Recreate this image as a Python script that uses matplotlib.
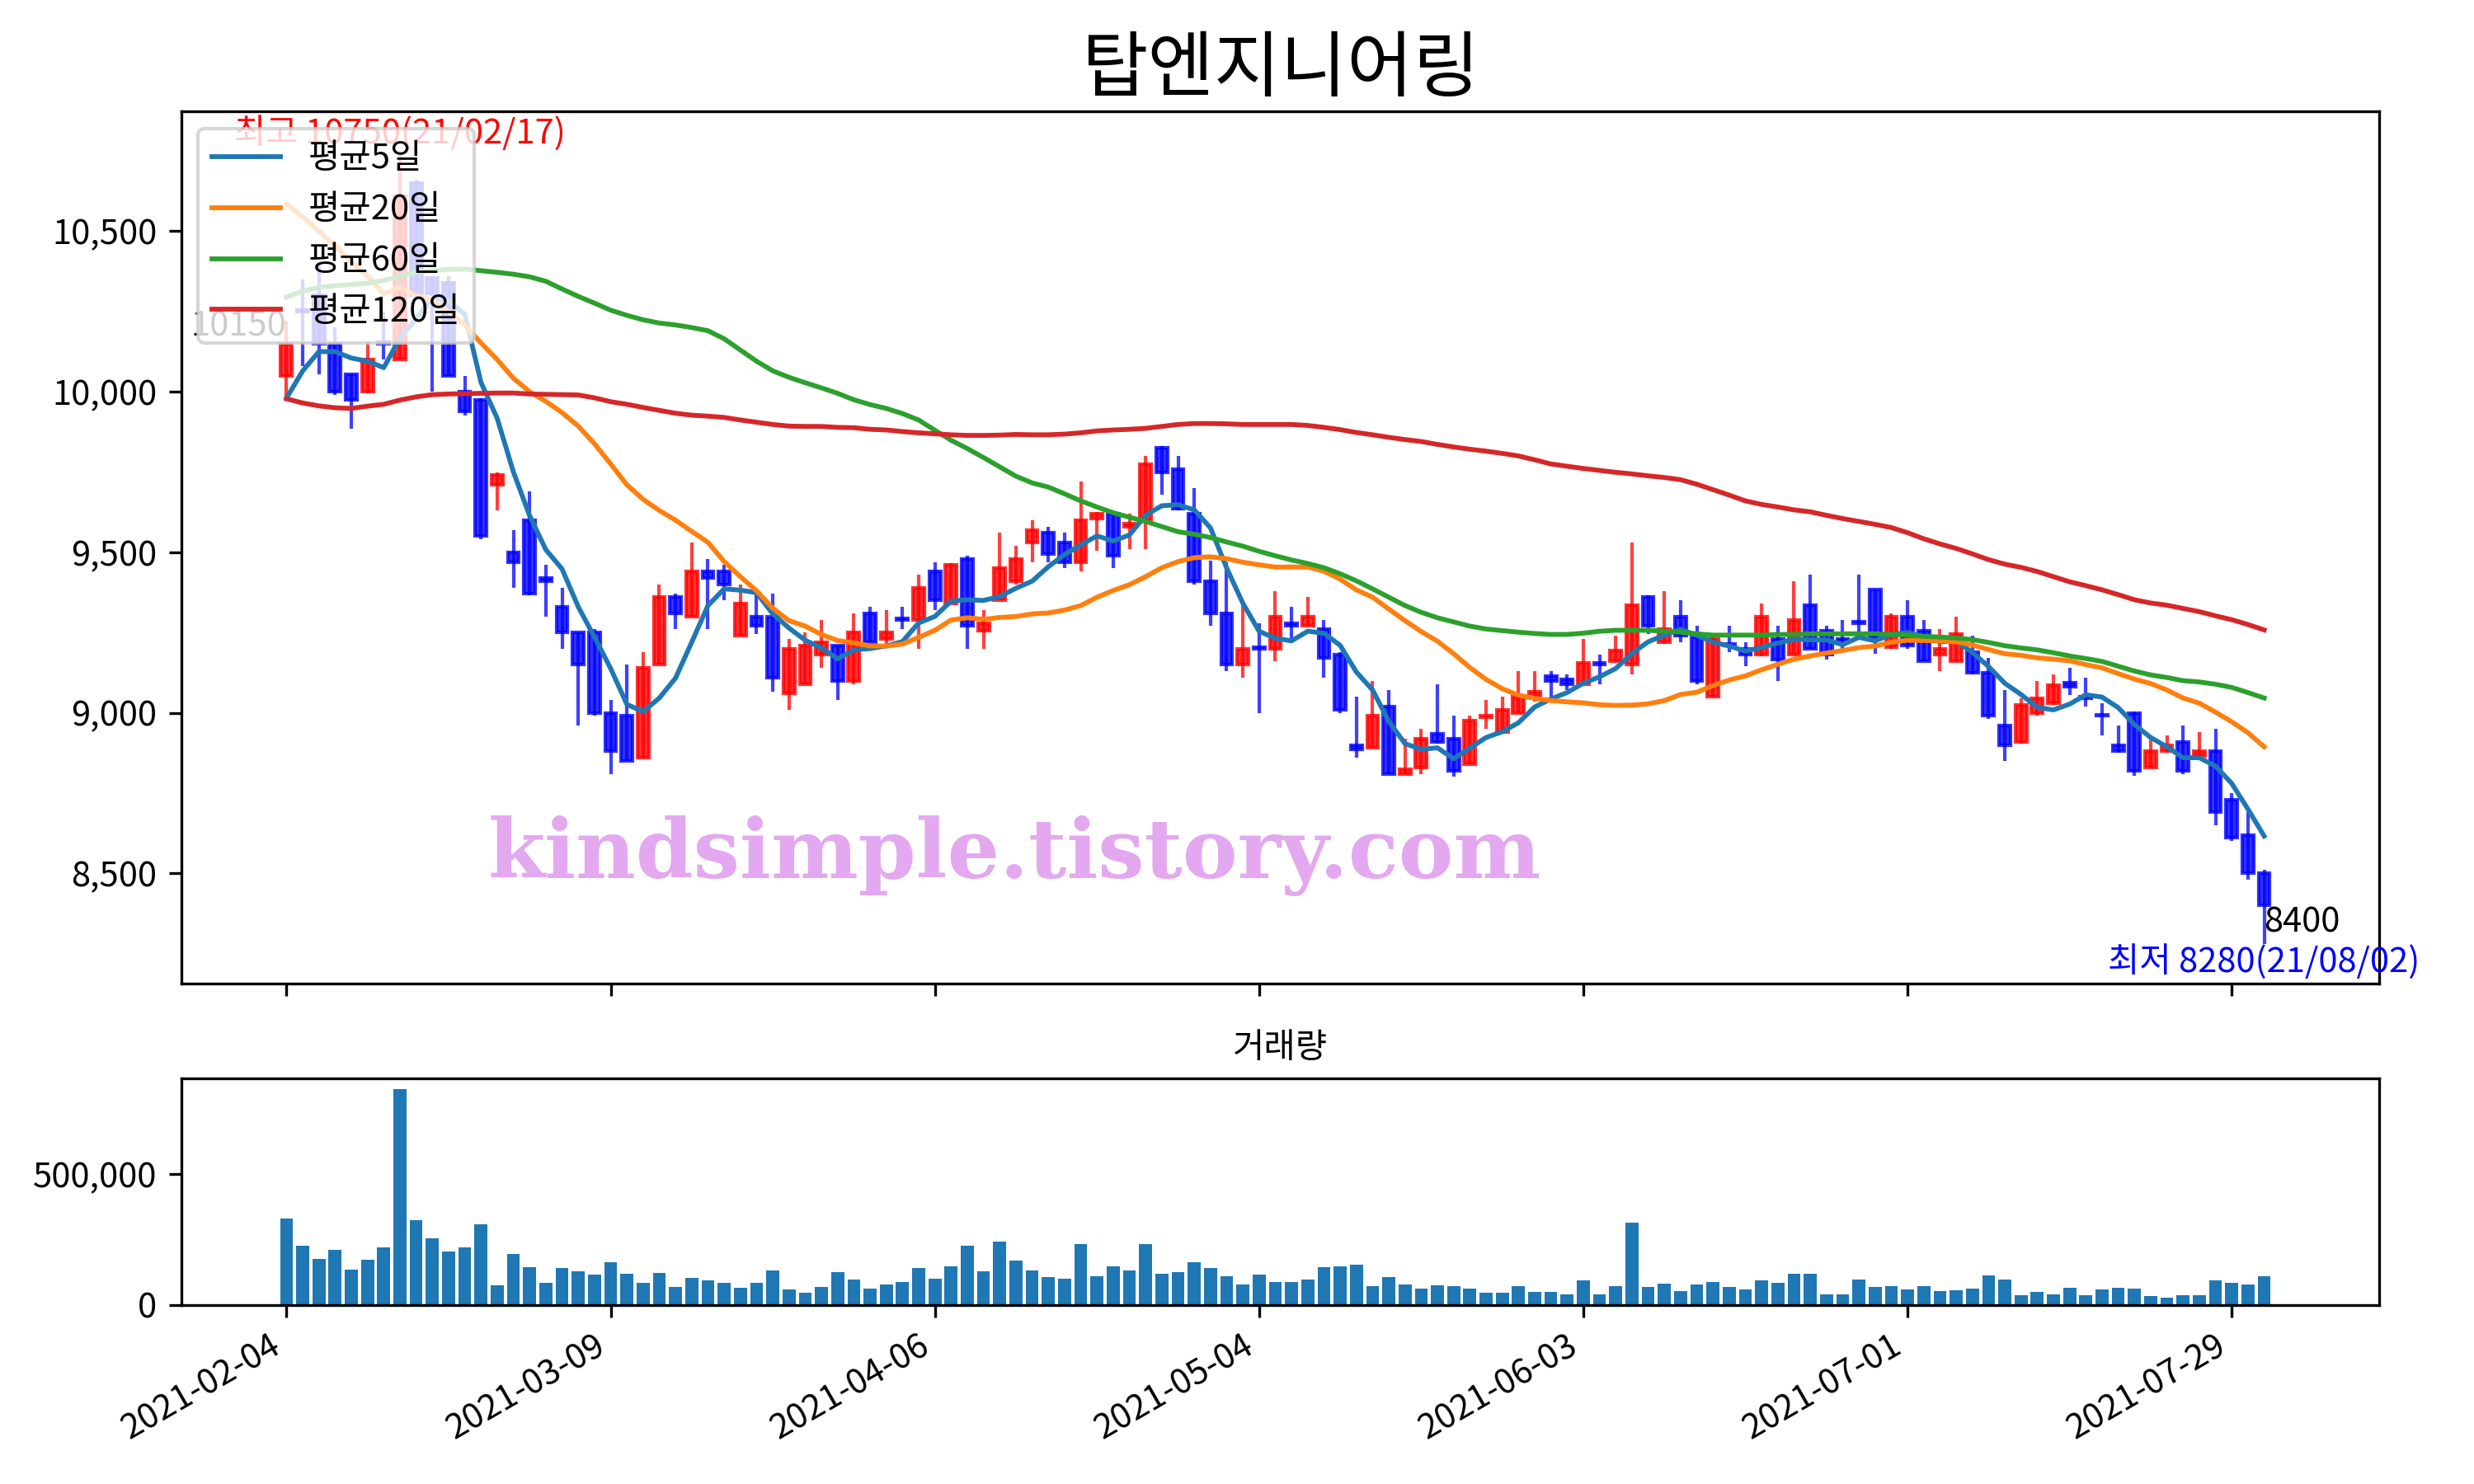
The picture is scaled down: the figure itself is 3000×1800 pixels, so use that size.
import matplotlib
matplotlib.use('Agg')
import matplotlib.pyplot as plt
from matplotlib.ticker import FuncFormatter
import numpy as np
import pandas as pd

plt.rcParams['font.family'] = ['Noto Sans CJK KR', 'DejaVu Sans']
plt.rcParams['axes.unicode_minus'] = False

title = '탑엔지니어링'
tick_labels = ['2021-02-04', '2021-03-09', '2021-04-06', '2021-05-04',
               '2021-06-03', '2021-07-01', '2021-07-29']
high_date = '21/02/17'
low_date = '21/08/02'

opens = [10050, 10255, 10300, 10150, 10055, 10000, 10155, 10100, 10650, 10355,
         10340, 10000, 9975, 9710, 9500, 9600, 9420, 9330, 9250, 9250,
         9000, 8990, 8860, 9150, 9360, 9300, 9440, 9440, 9240, 9300,
         9300, 9060, 9090, 9180, 9210, 9100, 9310, 9230, 9295, 9290,
         9440, 9340, 9480, 9255, 9350, 9410, 9530, 9560, 9530, 9470,
         9605, 9620, 9580, 9600, 9825, 9760, 9620, 9410, 9310, 9150,
         9205, 9200, 9280, 9270, 9260, 9180, 8900, 8890, 9020, 8810,
         8830, 8935, 8920, 8840, 8985, 8940, 9000, 9050, 9115, 9105,
         9090, 9155, 9160, 9150, 9360, 9220, 9300, 9235, 9050, 9215,
         9200, 9180, 9230, 9180, 9335, 9255, 9230, 9285, 9385, 9205,
         9300, 9255, 9180, 9160, 9190, 9125, 8960, 8910, 9000, 9030,
         9095, 9050, 8995, 8900, 9000, 8830, 8880, 8910, 8865, 8880,
         8730, 8620, 8500]
highs = [10220, 10350, 10400, 10200, 10055, 10155, 10250, 10750, 10660, 10360,
         10360, 10050, 9980, 9750, 9570, 9690, 9460, 9390, 9250, 9260,
         9040, 9150, 9190, 9400, 9370, 9530, 9480, 9460, 9400, 9385,
         9370, 9230, 9250, 9290, 9210, 9310, 9330, 9320, 9330, 9430,
         9470, 9465, 9490, 9320, 9560, 9520, 9600, 9580, 9560, 9720,
         9625, 9625, 9620, 9800, 9830, 9800, 9700, 9475, 9470, 9335,
         9280, 9380, 9330, 9360, 9290, 9190, 9050, 9100, 9070, 8920,
         8950, 9090, 8990, 8990, 9040, 9050, 9130, 9130, 9130, 9120,
         9230, 9180, 9240, 9530, 9365, 9380, 9350, 9270, 9235, 9270,
         9220, 9340, 9270, 9410, 9430, 9270, 9290, 9430, 9385, 9310,
         9350, 9290, 9260, 9300, 9240, 9170, 9070, 9045, 9100, 9120,
         9140, 9110, 9030, 8960, 9005, 8930, 8930, 8960, 8940, 8950,
         8750, 8690, 8510]
lows = [9980, 10080, 10055, 9990, 9885, 9995, 10100, 10100, 10290, 10000,
        10050, 9925, 9540, 9630, 9390, 9365, 9300, 9200, 8960, 8990,
        8810, 8850, 8860, 9150, 9260, 9300, 9260, 9350, 9240, 9245,
        9065, 9010, 9090, 9140, 9040, 9090, 9220, 9215, 9260, 9200,
        9320, 9340, 9200, 9200, 9350, 9400, 9470, 9470, 9450, 9440,
        9505, 9450, 9510, 9510, 9680, 9630, 9400, 9270, 9130, 9110,
        9000, 9160, 9230, 9270, 9110, 9000, 8860, 8890, 8810, 8810,
        8810, 8905, 8800, 8840, 8950, 8940, 9000, 9035, 9050, 9070,
        9090, 9090, 9160, 9120, 9245, 9215, 9220, 9090, 9050, 9190,
        9145, 9175, 9100, 9180, 9200, 9165, 9200, 9235, 9185, 9200,
        9200, 9160, 9130, 9160, 9120, 8980, 8850, 8905, 8990, 9025,
        9055, 9020, 8930, 8875, 8805, 8830, 8875, 8810, 8865, 8650,
        8600, 8480, 8280]
closes = [10150, 10250, 10150, 10000, 9975, 10100, 10150, 10610, 10300, 10305,
          10050, 9940, 9550, 9740, 9470, 9370, 9410, 9250, 9150, 9000,
          8880, 8850, 9140, 9360, 9310, 9440, 9420, 9400, 9340, 9270,
          9110, 9200, 9210, 9220, 9100, 9250, 9220, 9250, 9290, 9390,
          9350, 9460, 9270, 9280, 9450, 9480, 9570, 9495, 9470, 9600,
          9620, 9490, 9590, 9775, 9750, 9635, 9410, 9310, 9150, 9200,
          9200, 9300, 9270, 9300, 9170, 9010, 8885, 8990, 8810, 8825,
          8920, 8910, 8820, 8975, 8990, 9010, 9050, 9065, 9100, 9090,
          9155, 9150, 9195, 9335, 9270, 9260, 9240, 9100, 9230, 9210,
          9180, 9300, 9165, 9290, 9200, 9180, 9225, 9280, 9235, 9300,
          9210, 9160, 9200, 9245, 9125, 8990, 8900, 9025, 9045, 9085,
          9080, 9045, 8990, 8880, 8820, 8880, 8900, 8820, 8880, 8690,
          8610, 8500, 8400]
volumes = [329800, 225800, 175400, 210000, 134000, 172000, 219500, 824600, 323500, 254000,
           203800, 219500, 307800, 74600, 194000, 144000, 84000, 140800, 128000, 115500,
           162800, 118700, 84000, 121800, 68300, 103000, 93500, 84000, 65000, 84000,
           131000, 58800, 46200, 68300, 125000, 96600, 62000, 77700, 87200, 140800,
           99800, 147000, 225800, 128000, 241600, 169000, 131000, 106000, 99800, 232000,
           109000, 147000, 131000, 232000, 118700, 125000, 162800, 140800, 109000, 77700,
           115500, 87200, 87200, 96600, 143900, 147000, 153400, 71400, 106000, 77700,
           62000, 74600, 71400, 62000, 46200, 46200, 71400, 49400, 49400, 40000,
           93500, 40000, 71400, 314000, 68300, 80900, 52500, 77700, 87200, 68300,
           58800, 93500, 84000, 118700, 118700, 40000, 40000, 96600, 68300, 71400,
           58800, 71400, 52500, 55700, 62000, 112400, 96600, 36800, 49400, 40000,
           65000, 36800, 58800, 65000, 62000, 33600, 27300, 36800, 36800, 93500,
           84000, 77700, 109000]

# first four 5-day averages (they depend on closes before the shown period)
ma5_head = [9980, 10065, 10125, 10125]
ma20 = [10585, 10545, 10500, 10455, 10405, 10360, 10305, 10325, 10300, 10285,
        10250, 10208, 10152, 10100, 10042, 10000, 9970, 9935, 9893, 9838,
        9775, 9710, 9665, 9630, 9600, 9565, 9531, 9471, 9424, 9380,
        9326, 9287, 9270, 9244, 9225, 9218, 9208, 9208, 9214, 9235,
        9257, 9289, 9296, 9291, 9297, 9300, 9308, 9311, 9320, 9334,
        9360, 9381, 9399, 9424, 9452, 9471, 9483, 9486, 9480, 9469,
        9461, 9454, 9454, 9454, 9441, 9416, 9383, 9360, 9323, 9287,
        9253, 9223, 9184, 9141, 9104, 9075, 9055, 9045, 9038, 9034,
        9031, 9025, 9023, 9024, 9028, 9038, 9057, 9064, 9085, 9102,
        9115, 9134, 9151, 9167, 9177, 9186, 9194, 9203, 9208, 9220,
        9226, 9225, 9224, 9221, 9211, 9197, 9184, 9179, 9171, 9167,
        9162, 9150, 9140, 9122, 9105, 9091, 9071, 9046, 9030, 9002,
        8972, 8938, 8894]
ma60 = [10295, 10313, 10325, 10330, 10334, 10338, 10347, 10360, 10372, 10377,
        10381, 10382, 10377, 10372, 10366, 10358, 10344, 10320, 10297, 10276,
        10254, 10238, 10224, 10214, 10208, 10200, 10190, 10165, 10130, 10095,
        10065, 10045, 10028, 10012, 9995, 9975, 9960, 9948, 9932, 9912,
        9880, 9849, 9823, 9795, 9766, 9737, 9716, 9703, 9682, 9660,
        9641, 9623, 9609, 9596, 9580, 9564, 9556, 9546, 9532, 9519,
        9503, 9489, 9476, 9465, 9452, 9433, 9411, 9386, 9360, 9334,
        9313, 9296, 9283, 9270, 9261, 9256, 9251, 9247, 9244, 9244,
        9248, 9254, 9257, 9257, 9257, 9254, 9251, 9246, 9242, 9242,
        9242, 9242, 9244, 9244, 9246, 9246, 9246, 9246, 9246, 9244,
        9242, 9238, 9236, 9233, 9228, 9219, 9209, 9202, 9196, 9187,
        9177, 9169, 9160, 9145, 9130, 9118, 9110, 9100, 9096, 9089,
        9079, 9063, 9046]
ma120 = [9978, 9965, 9956, 9950, 9948, 9955, 9961, 9974, 9984, 9991,
         9993, 9994, 9995, 9996, 9996, 9993, 9992, 9991, 9990, 9981,
         9969, 9961, 9951, 9942, 9933, 9927, 9924, 9920, 9912, 9905,
         9898, 9893, 9892, 9892, 9889, 9888, 9883, 9881, 9876, 9872,
         9869, 9866, 9864, 9864, 9865, 9867, 9866, 9866, 9868, 9872,
         9878, 9881, 9883, 9886, 9892, 9898, 9901, 9901, 9900, 9898,
         9898, 9898, 9898, 9895, 9889, 9882, 9873, 9866, 9858, 9851,
         9845, 9836, 9828, 9821, 9815, 9808, 9800, 9788, 9775, 9768,
         9761, 9755, 9749, 9744, 9738, 9733, 9726, 9712, 9695, 9678,
         9660, 9649, 9641, 9632, 9626, 9615, 9605, 9596, 9587, 9577,
         9561, 9542, 9526, 9512, 9495, 9477, 9463, 9453, 9440, 9424,
         9408, 9396, 9383, 9368, 9352, 9342, 9335, 9325, 9315, 9302,
         9290, 9275, 9258]

o = np.array(opens, dtype=float)
h = np.array(highs, dtype=float)
l = np.array(lows, dtype=float)
c = np.array(closes, dtype=float)
v = np.array(volumes, dtype=float)
x = np.arange(len(c))

ma5 = pd.Series(c).rolling(5).mean().to_numpy()
ma5[:4] = ma5_head

fig = plt.figure(figsize=(10, 6), dpi=300)
ax = fig.add_axes([0.0732, 0.3372, 0.8885, 0.5878])
axv = fig.add_axes([0.0732, 0.1206, 0.8885, 0.1528], sharex=ax)

up = c >= o
cols = np.where(up, 'red', 'blue')
ax.vlines(x, l, h, colors=cols, linewidth=1.0, alpha=0.75)
ax.bar(x, np.abs(c - o), bottom=np.minimum(o, c), width=0.7,
       color=cols, edgecolor=cols, linewidth=1.0, alpha=0.8)

ax.plot(x, ma5, color='C0', lw=1.4, label='평균5일')
ax.plot(x, ma20, color='C1', lw=1.4, label='평균20일')
ax.plot(x, ma60, color='C2', lw=1.4, label='평균60일')
ax.plot(x, ma120, color='C3', lw=1.4, label='평균120일')

imax = int(np.argmax(h))
imin = int(np.argmin(l))
ax.text(imax, h[imax], f'최고 {int(h[imax])}({high_date})', color='red',
        ha='center', va='bottom', fontsize=10)
ax.text(imin, l[imin], f'최저 {int(l[imin])}({low_date})', color='blue',
        ha='center', va='top', fontsize=10)
ax.text(0, c[0], f'{int(c[0])}', color='black', ha='right', va='bottom', fontsize=10)
ax.text(len(c) - 1, c[-1], f'{int(c[-1])}', color='black', ha='left', va='top', fontsize=10)

ax.text(0.379, 0.147, 'kindsimple.tistory.com', transform=ax.transAxes,
        ha='center', va='center', fontsize=24, fontweight='bold',
        family='DejaVu Serif', color='#E3A8EF')

ax.legend(loc='upper left', fontsize=10)
ax.set_title(title, fontsize=21)
ax.yaxis.set_major_formatter(FuncFormatter(lambda val, pos: f'{val:,.0f}'))

axv.bar(x, v, color='C0', width=0.8)
axv.set_title('거래량', fontsize=10)
axv.yaxis.set_major_formatter(FuncFormatter(lambda val, pos: f'{val:,.0f}'))

ticks = list(range(0, len(c), 20))
axv.set_xticks(ticks)
axv.set_xticklabels(tick_labels, rotation=30, ha='right')
plt.setp(ax.get_xticklabels(), visible=False)
ax.set_xlim(-6.5, 129.1)
for a in (ax, axv):
    a.tick_params(labelsize=10)

fig.savefig('out.png', dpi=300)
